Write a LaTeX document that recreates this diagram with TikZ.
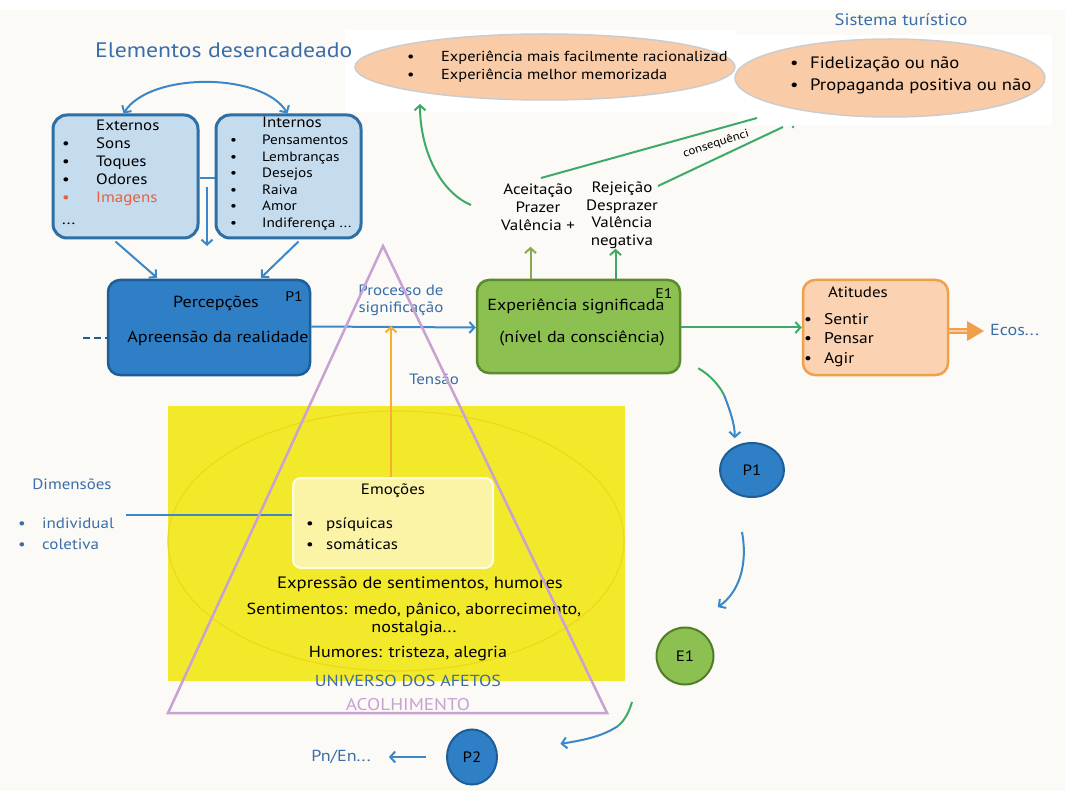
\documentclass[tikz,border=0pt]{standalone}
\usepackage{fontspec}
\setmainfont{PT Sans}[FakeStretch=1.13]
\usetikzlibrary{arrows.meta,shapes.geometric}
\definecolor{bgc}{HTML}{FBFAF6}
\definecolor{ablue}{HTML}{3B87C8}
\definecolor{tblue}{HTML}{3A6EA8}
\definecolor{pfill}{HTML}{2E7FC6}
\definecolor{pdraw}{HTML}{1D5E98}
\definecolor{lbfill}{HTML}{C5DCEF}
\definecolor{lbdraw}{HTML}{2E6FA5}
\definecolor{agreen}{HTML}{3DAA6A}
\definecolor{olive}{HTML}{8AA850}
\definecolor{gfill}{HTML}{8CC152}
\definecolor{gdraw}{HTML}{5C8A2E}
\definecolor{peach}{HTML}{F9CBA7}
\definecolor{afill}{HTML}{FCD3B2}
\definecolor{orng}{HTML}{F0A04B}
\definecolor{yel}{HTML}{F3E92B}
\definecolor{yelline}{HTML}{EED81A}
\definecolor{purp}{HTML}{C8A2D2}
\definecolor{emofill}{HTML}{FBF4A6}
\definecolor{tens}{HTML}{F5B02E}
\definecolor{redt}{HTML}{E8603C}
\newcommand\fz[2]{\fontsize{#1}{#2}\selectfont}
\newcommand\bu[1]{\makebox[34pt][l]{#1}}
\newcommand\bi[1]{\makebox[32pt][l]{#1}}
\tikzset{
  tip/.style={-{Straight Barb[length=5pt,width=11pt,line width=2pt]}},
  barrow/.style={ablue, line width=2pt, tip},
  garrow/.style={agreen, line width=2pt, tip},
  txt/.style={inner sep=0pt, text=black},
  lbox/.style={draw=lbdraw, fill=lbfill, line width=3pt, rounded corners=14pt, minimum width=145pt, minimum height=123pt},
  circ/.style={ellipse, line width=2pt, inner sep=0pt, font=\fz{15}{18}},
  pell/.style={ellipse, fill=peach, draw=black!20, line width=1.5pt},
}
\begin{document}
\begin{tikzpicture}[x=1pt,y=-1pt]
\useasboundingbox (0,0) rectangle (1065,791);
\fill[bgc] (0,0) rectangle (1065,791);
\fill[white] (0,0) rectangle (1065,10);
\fill[white] (345,30) rectangle (737,112);
\fill[white] (737,35) rectangle (1052,125);

% yellow universe
\fill[yel] (168,406) rectangle (625,681);
\draw[yelline, line width=1.2pt] (396,541) ellipse [x radius=228, y radius=130];

% title
\node[txt, anchor=west, text=tblue, font=\fz{21}{24}] (title) at (95,50) {Elementos desencadeado};
\node[txt, text=tblue, font=\fz{16.5}{19}] (sist) at (901,20) {Sistema turístico};

% top ellipses
\node[pell, minimum width=380pt, minimum height=66pt] (ell1) at (545,67) {};
\node[txt, anchor=west, align=left, font=\fz{14.5}{18}] (ell1t) at (407,67) {\bu{•}Experiência mais facilmente racionalizad\\ \bu{•}Experiência melhor memorizada};
\node[pell, minimum width=310pt, minimum height=78pt] (ell2) at (890,78) {};
\node[txt, anchor=west, align=left, font=\fz{16.5}{22}] (ell2t) at (790,75) {\makebox[20pt][l]{•}Fidelização ou não\\ \makebox[20pt][l]{•}Propaganda positiva ou não};

% trigger boxes
\node[lbox] (ext) at (125.5,176.5) {};
\node[lbox] (int) at (288.5,176.5) {};
\node[txt, anchor=north west, align=left, font=\fz{15}{18}] (extt) at (62,120) {\bu{}Externos\\ \bu{•}Sons\\ \bu{•}Toques\\ \bu{•}Odores\\ \textcolor{redt}{\bu{•}Imagens}\\[4pt] ...};
\node[txt, anchor=north west, font=\fz{15}{18}] (intt) at (262,117) {Internos};
\node[txt, anchor=north west, align=left, font=\fz{13.5}{16.5}] (intl) at (230,135) {\bi{•}Pensamentos\\ \bi{•}Lembranças\\ \bi{•}Desejos\\ \bi{•}Raiva\\ \bi{•}Amor\\ \bi{•}Indiferença ...};
\draw[barrow, {Straight Barb[length=5pt,width=11pt,line width=2pt]}-{Straight Barb[length=5pt,width=11pt,line width=2pt]}] ([xshift=-2pt]ext.north) .. controls (150,72) and (262,72) .. ([xshift=-1pt]int.north);
\draw[ablue, line width=2pt] (ext.east |- 0,178) -- (int.west |- 0,178);
\coordinate (jn) at (207,187);
\coordinate (jd) at (207,246);
\draw[barrow] (jn) -- (jd);

% perceptions
\node[draw=pdraw, fill=pfill, line width=2.5pt, rounded corners=12pt, minimum width=202pt, minimum height=95pt] (perc) at (209,327.5) {};
\node[txt, font=\fz{16}{19}] (perct) at (216,303) {Percepções};
\node[txt, font=\fz{14}{16}] (percp) at (294,297) {P1};
\node[txt, font=\fz{16}{19}] (perca) at (218,338) {Apreensão da realidade};
\coordinate (dsh) at (83,338);
\draw[pdraw, line width=2pt, dash pattern=on 7pt off 4pt] (dsh) -- (perc.west |- dsh);
\draw[barrow] ([shift={(-10,2)}]ext.south) -- ([shift={(-52,-1)}]perc.north);
\draw[barrow] ([shift={(10,2)}]int.south) -- ([shift={(52,-1)}]perc.north);

% experience
\node[draw=gdraw, fill=gfill, line width=2.5pt, rounded corners=12pt, minimum width=203pt, minimum height=93pt] (exper) at (578.5,326.5) {};
\node[txt, font=\fz{16}{19}] (expt) at (576,306) {Experiência significada};
\node[txt, font=\fz{14}{16}] (expe) at (664,294) {E1};
\node[txt, font=\fz{16}{19}] (expn) at (582,338) {(nível da consciência)};
\draw[barrow] ([yshift=1pt]perc.east) -- (exper.west |- perc.east);
\node[txt, text=tblue, align=center, font=\fz{15}{17}] (proc) at (401,300) {Processo de\\significação};

% acceptance / rejection
\node[txt, align=center, font=\fz{15}{18}] (acc) at (538,207) {Aceitação\\Prazer\\Valência +};
\node[txt, align=center, font=\fz{15}{17.5}] (rej) at (622,215) {Rejeição\\Desprazer\\Valência\\negativa};
\draw[olive, line width=2pt, tip] ([xshift=-48pt]exper.north) -- ++(0,-32);
\draw[agreen, line width=2pt, tip] ([xshift=37pt]exper.north) -- ++(0,-30);
\coordinate (gs) at (471,205);
\draw[garrow] (gs) .. controls (440,192) and (420,150) .. (420,104);
\coordinate (c1) at (541,178);
\coordinate (c2) at (757,118);
\coordinate (c3) at (658,186);
\coordinate (c4) at (783,127);
\draw[agreen, line width=2pt] (c1) -- (c2);
\draw[agreen, line width=2pt] (c3) -- (c4);
\fill[agreen] (793,127) circle (1.3pt);
\node[txt, rotate=18, font=\fz{11.5}{13}] (cons) at (716,144) {consequênci};

% attitudes
\node[draw=orng, fill=afill, line width=2.5pt, rounded corners=12pt, minimum width=145pt, minimum height=95pt] (atit) at (875.5,327.5) {};
\node[txt, font=\fz{15}{18}] (atitt) at (858,292) {Atitudes};
\node[txt, anchor=west, align=left, font=\fz{15.5}{19.5}] (atitl) at (804,340) {\makebox[20pt][l]{•}Sentir\\ \makebox[20pt][l]{•}Pensar\\ \makebox[20pt][l]{•}Agir};
\draw[garrow] (exper.east |- atit.west) -- (atit.west);
\node[txt, text=tblue, anchor=west, font=\fz{16}{19}] (ecos) at (990,330) {Ecos...};
\draw[orng, line width=1.6pt, double=orng!55, double distance=2.5pt] (atit.east |- 0,331) -- (970,331) coordinate (oe);
\fill[orng] (967,321) -- (984,331) -- (967,341) -- cycle;

% cycle circles
\node[circ, fill=pfill, draw=pdraw, minimum width=64pt, minimum height=54pt] (p1) at (752,470) {P1};
\node[circ, fill=gfill, draw=gdraw!90!black, minimum width=57pt, minimum height=57pt] (e1) at (685,656) {E1};
\node[circ, fill=pfill, draw=pdraw, minimum width=50pt, minimum height=55pt] (p2) at (472,757) {P2};
\node[txt, text=tblue, font=\fz{16}{19}] (pn) at (341,757) {Pn/En...};

\coordinate (m1) at (724,395);
\draw[agreen, line width=2pt] ([shift={(17,-6)}]exper.south east) .. controls (710,375) and (719,385) .. (m1);
\draw[barrow] (m1) .. controls (730,410) and (735,425) .. ([shift={(6,-12)}]p1.north west);
\coordinate (q1) at (742,532);
\draw[barrow] (q1) .. controls (748,565) and (739,592) .. ([shift={(12,-28)}]e1.north east);
\coordinate (r0) at (632,702);
\coordinate (r1) at (618,726);
\draw[agreen, line width=2pt] (r0) .. controls (629,712) and (625,720) .. (r1);
\draw[barrow] (r1) .. controls (603,736) and (585,740) .. ([shift={(70,7)}]p2.north east);
\draw[barrow] ([xshift=-20pt]p2.west) -- ([xshift=18pt]pn.east);

% emotions
\node[fill=emofill, draw=white!70!emofill, line width=2pt, rounded corners=8pt, minimum width=200pt, minimum height=90pt] (emo) at (393,523) {};
\node[txt, font=\fz{15}{18}] (emot) at (393,491) {Emoções};
\node[txt, anchor=west, align=left, font=\fz{15}{21}] (emol) at (306,534) {\makebox[20pt][l]{•}psíquicas\\ \makebox[20pt][l]{•}somáticas};
\draw[tens, line width=2pt, tip] (emo.north -| 391,0) -- (391,326);
\node[txt, text=tblue, font=\fz{15}{18}] (tensao) at (434,379) {Tensão};
\node[txt, text=tblue, font=\fz{15}{18}] (dim) at (72,484) {Dimensões};
\node[txt, text=tblue, anchor=west, align=left, font=\fz{15}{21}] (diml) at (18,534) {\makebox[24pt][l]{•}individual\\ \makebox[24pt][l]{•}coletiva};
\draw[ablue, line width=2pt] (126,515) -- (emo.west |- 0,515);
\node[txt, font=\fz{16.5}{19}] (expr) at (420,584) {Expressão de sentimentos, humores};
\node[txt, align=center, font=\fz{16}{18}] (sent) at (414,619) {Sentimentos: medo, pânico, aborrecimento,\\nostalgia...};
\node[txt, font=\fz{16}{19}] (hum) at (408,654) {Humores: tristeza, alegria};
\node[txt, text=tblue, font=\fz{16}{19}] (univ) at (408,681) {UNIVERSO DOS AFETOS};
\node[txt, text=purp, font=\fz{17}{19}] (acol) at (408,705) {ACOLHIMENTO};

% triangle
\coordinate (ta) at (383,246);
\coordinate (tl) at (168,713);
\coordinate (tr) at (607,713);
\draw[purp, line width=2.5pt, line join=miter] (ta) -- (tl) -- (tr) -- cycle;
\end{tikzpicture}
\end{document}
